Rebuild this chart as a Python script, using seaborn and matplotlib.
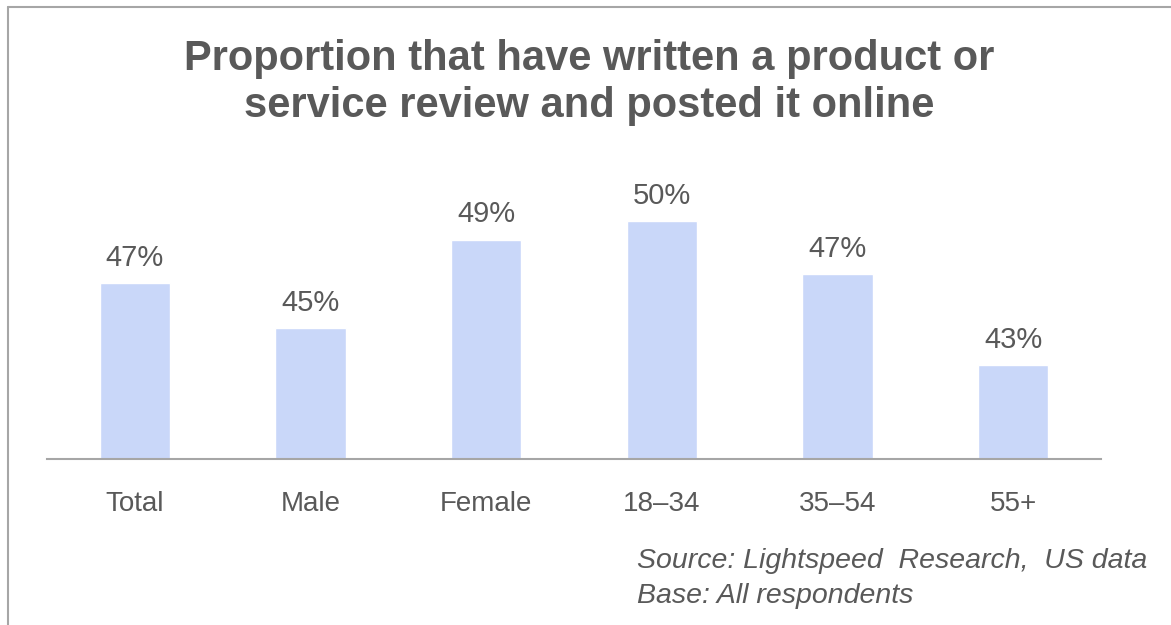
"""Bar chart: share of people who have posted a product/service review online."""
import matplotlib

matplotlib.use("Agg")
import matplotlib.pyplot as plt
import pandas as pd
import seaborn as sns
from matplotlib.lines import Line2D

GROUPS = ["Total", "Male", "Female", "18\u201334", "35\u201354", "55+"]
SHARE = [47.0, 44.8, 49.1, 50.0, 47.4, 43.0]
SHARE_LABELS = ["47%", "45%", "49%", "50%", "47%", "43%"]

TITLE_LINES = [
    "Proportion that have written a product or",
    "service review and posted it online",
]
NOTE_LINES = [
    "Source: Lightspeed  Research,  US data",
    "Base: All respondents",
]

TEXT_GREY = "#595959"
BAR_BLUE = "#c9d7f9"
LINE_GREY = "#a6a6a6"


def main() -> None:
    sns.set_theme(style="white")
    plt.rcParams["font.family"] = ["Liberation Sans", "DejaVu Sans"]

    df = pd.DataFrame({"group": GROUPS, "share": SHARE})

    fig = plt.figure(figsize=(11.71, 6.25), dpi=100)
    ax = fig.add_axes([0.0401, 0.2656, 0.9001, 0.4944])

    sns.barplot(data=df, x="group", y="share", color=BAR_BLUE, saturation=1,
                width=0.4, ax=ax)
    ax.bar_label(ax.containers[0], labels=SHARE_LABELS, padding=8,
                 fontsize=21, color=TEXT_GREY)

    ax.set_ylim(38.4, 53.47)
    ax.set_xlim(-0.5, len(GROUPS) - 0.5)
    ax.set_xlabel("")
    ax.set_ylabel("")
    ax.set_yticks([])
    ax.tick_params(axis="x", length=0, pad=23, labelsize=20, labelcolor=TEXT_GREY)
    for side in ["top", "left", "right"]:
        ax.spines[side].set_visible(False)
    ax.spines["bottom"].set_color(LINE_GREY)
    ax.spines["bottom"].set_linewidth(1.5)

    # title, two centred lines
    for text, y in zip(TITLE_LINES, [0.888, 0.8128]):
        fig.text(0.503, y, text, ha="center", va="baseline", fontsize=30,
                 fontweight="bold", color=TEXT_GREY)

    # source note
    for text, y in zip(NOTE_LINES, [1 - 568 / 625, 1 - 603 / 625]):
        fig.text(637 / 1171, y, text, ha="left", va="baseline", fontsize=20.5,
                 fontstyle="italic", color=TEXT_GREY)

    # frame lines (top and left)
    x0 = 8 / 1171
    y0 = 1 - 7 / 625
    fig.add_artist(Line2D([x0, 1.0], [y0, y0], color=LINE_GREY, lw=1.5))
    fig.add_artist(Line2D([x0, x0], [0.0, y0], color=LINE_GREY, lw=1.5))

    fig.savefig("out.png", dpi=100, facecolor="white")
    plt.close(fig)


if __name__ == "__main__":
    main()
